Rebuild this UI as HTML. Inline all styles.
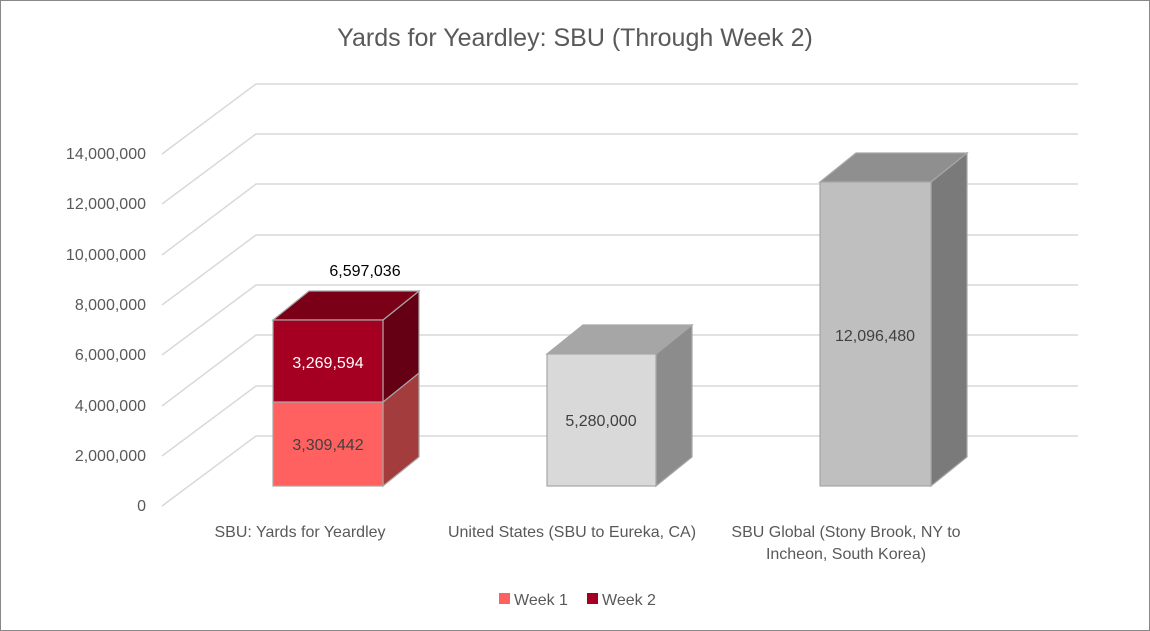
<!DOCTYPE html>
<html><head><meta charset="utf-8"><style>
body{margin:0;background:#fff}
svg{display:block;font-family:"Liberation Sans",sans-serif}
</style></head><body>
<svg width="1150" height="631" viewBox="0 0 1150 631">
<rect x="0.5" y="0.5" width="1149" height="630" fill="#fff" stroke="#888"/>
<text x="575" y="46" text-anchor="middle" font-size="25" fill="#595959">Yards for Yeardley: SBU (Through Week 2)</text>
<g stroke="#d9d9d9" stroke-width="1.5" fill="none">
<path d="M162 506L256 436H1078M162 456L256 386H1078M162 406L256 335H1078M162 355L256 285H1078M162 305L256 235H1078M162 255L256 184H1078M162 204L256 134H1078M162 154L256 84H1078"/>
</g>
<g font-size="16" fill="#595959" text-anchor="end">
<text x="146" y="511">0</text><text x="146" y="461">2,000,000</text><text x="146" y="411">4,000,000</text><text x="146" y="360">6,000,000</text><text x="146" y="310">8,000,000</text><text x="146" y="260">10,000,000</text><text x="146" y="209">12,000,000</text><text x="146" y="159">14,000,000</text>
</g>
<g stroke="#a6a6a6" stroke-width="1.2">
<!-- bar1 week1 -->
<polygon points="383,402 419,373 419,457 383,486" fill="#A33C3C"/>
<rect x="273" y="402" width="110" height="84" fill="#FF6161"/>
<!-- week2 -->
<polygon points="383,320 419,291 419,373 383,402" fill="#650014"/>
<polygon points="273,320 309,291 419,291 383,320" fill="#7A0018"/>
<rect x="273" y="320" width="110" height="82" fill="#A50021"/>
<!-- bar2 -->
<polygon points="656,354 692,325 692,457 656,486" fill="#8C8C8C"/>
<polygon points="547,354 583,325 692,325 656,354" fill="#A6A6A6"/>
<rect x="547" y="354" width="109" height="132" fill="#D9D9D9"/>
<!-- bar3 -->
<polygon points="931,182 967,153 967,457 931,486" fill="#7A7A7A"/>
<polygon points="820,182 856,153 967,153 931,182" fill="#8F8F8F"/>
<rect x="820" y="182" width="111" height="304" fill="#BFBFBF"/>
</g>
<g font-size="16" text-anchor="middle">
<text x="328" y="450" fill="#404040">3,309,442</text>
<text x="328" y="368" fill="#fff">3,269,594</text>
<text x="365" y="276" fill="#000">6,597,036</text>
<text x="601" y="426" fill="#404040">5,280,000</text>
<text x="875" y="341" fill="#404040">12,096,480</text>
</g>
<g font-size="16" fill="#595959" text-anchor="middle">
<text x="300" y="537">SBU: Yards for Yeardley</text>
<text x="572" y="537">United States (SBU to Eureka, CA)</text>
<text x="846" y="537">SBU Global (Stony Brook, NY to</text>
<text x="846" y="559">Incheon, South Korea)</text>
</g>
<rect x="499" y="593" width="11" height="11" fill="#FF6161"/>
<text x="514" y="605" font-size="16" fill="#595959">Week 1</text>
<rect x="587" y="593" width="11" height="11" fill="#A50021"/>
<text x="602" y="605" font-size="16" fill="#595959">Week 2</text>
</svg>
</body></html>
